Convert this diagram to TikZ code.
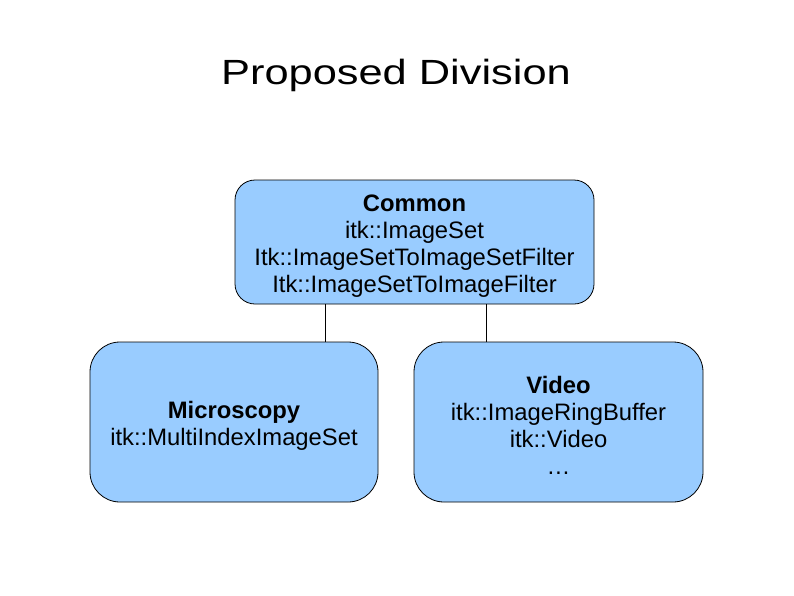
\documentclass[tikz,border=0pt]{standalone}
\usepackage{fontspec}
\usepackage{graphicx}
\setmainfont{Liberation Sans}
\definecolor{boxblue}{HTML}{99CCFF}
\begin{document}
\begin{tikzpicture}[x=1pt,y=-1pt,
  box/.style={draw=black, line width=0.8pt, fill=boxblue, rounded corners=#1},
  btext/.style={align=center, font=\fontsize{23.8}{27.2}\selectfont, inner sep=0pt},
  link/.style={draw=black, line width=0.7pt}]
\useasboundingbox (0,0) rectangle (794,595);
\node[font=\fontsize{35}{42}\selectfont, inner sep=0pt, anchor=base] (title) at (396,84) {\scalebox{1.24}[1]{Proposed Division}};
\draw[box=20pt] (235,180) rectangle (594,304);
\node[btext] (common) at (414.5,246) {\textbf{Common}\\itk::ImageSet\\Itk::ImageSetToImageSetFilter\\Itk::ImageSetToImageFilter};
\draw[box=30pt] (90,342) rectangle (378,502);
\node[btext] (micro) at (234,425.5) {\textbf{Microscopy}\\itk::MultiIndexImageSet};
\draw[box=30pt] (414,342) rectangle (703,502);
\node[btext] (video) at (558.5,425.5) {\textbf{Video}\\itk::ImageRingBuffer\\itk::Video\\\ldots};
\coordinate (c1) at (325,304);
\coordinate (m1) at (325,342);
\coordinate (c2) at (486,304);
\coordinate (v1) at (486,342);
\draw[link] (c1) -- (m1);
\draw[link] (c2) -- (v1);
\end{tikzpicture}
\end{document}
